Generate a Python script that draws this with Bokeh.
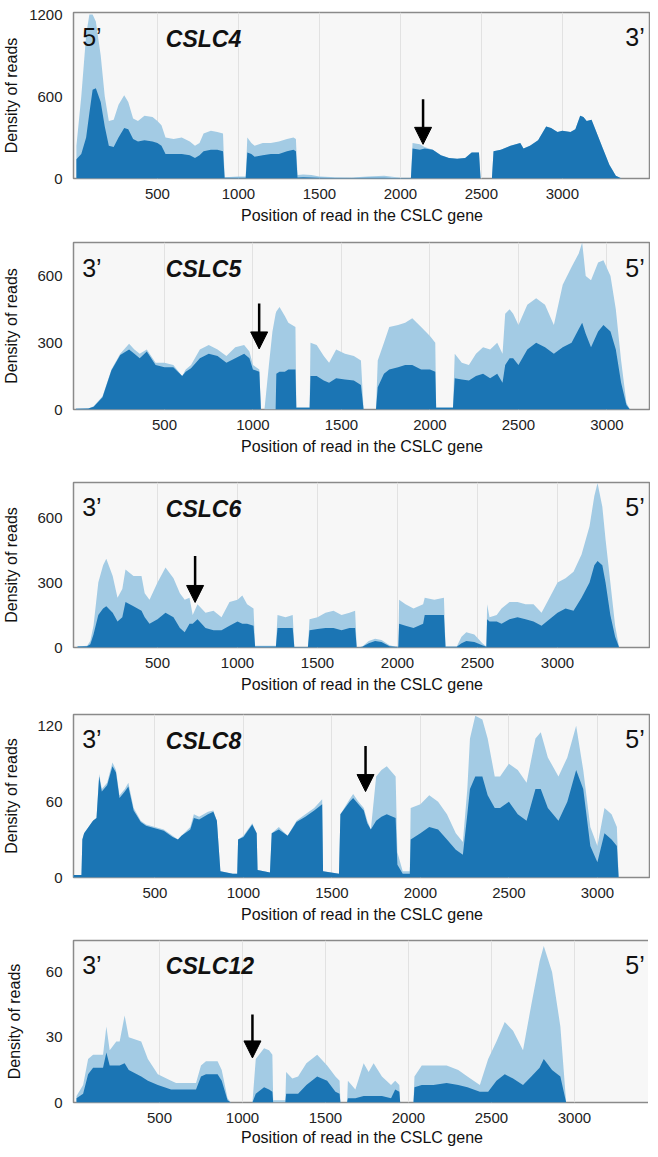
from bokeh.plotting import figure
from bokeh.models import Label, Arrow, NormalHead, FixedTicker, Range1d
from bokeh.layouts import column
from bokeh.embed import file_html
from bokeh.resources import INLINE

# ---------------- data ----------------
# CSLC4
x4 = [0, 30, 60, 80, 100, 120, 150, 175, 200, 230, 260, 295, 320, 350, 380, 420, 470, 500, 525, 550,
      600, 650, 700, 732, 760, 785, 830, 870, 905, 915, 1000, 1045, 1055, 1080, 1100, 1150, 1200, 1250,
      1300, 1340, 1355, 1365, 1400, 1450, 1500, 1600, 1700, 1800, 1900, 1950, 2000, 2065, 2075, 2120,
      2150, 2200, 2250, 2300, 2350, 2400, 2440, 2485, 2495, 2565, 2575, 2620, 2680, 2740, 2760, 2800,
      2850, 2900, 2930, 2970, 3000, 3050, 3080, 3110, 3130, 3150, 3180, 3210, 3250, 3290, 3330, 3365]
light4 = [240, 600, 1050, 1200, 1200, 1150, 900, 600, 420, 430, 540, 610, 560, 440, 420, 460, 450, 420, 390, 300,
          290, 300, 270, 240, 260, 330, 350, 340, 330, 10, 15, 15, 300, 260, 240, 260, 260, 270,
          290, 300, 290, 25, 30, 25, 15, 10, 8, 15, 20, 12, 5, 5, 260, 250,
          230, 210, 170, 150, 145, 150, 190, 190, 0, 0, 200, 210, 240, 260, 220, 240,
          280, 380, 370, 340, 350, 340, 360, 460, 450, 420, 430, 340, 220, 100, 20, 0]
dark4 = [140, 180, 300, 480, 650, 660, 560, 380, 240, 230, 300, 370, 360, 290, 270, 280, 270, 260, 240, 180,
         180, 180, 170, 150, 170, 200, 210, 210, 200, 5, 5, 5, 190, 180, 160, 170, 180, 180,
         200, 210, 200, 8, 10, 8, 5, 4, 3, 5, 5, 4, 3, 3, 220, 210,
         220, 210, 170, 150, 145, 150, 190, 190, 0, 0, 200, 210, 240, 260, 220, 240,
         280, 380, 370, 340, 350, 340, 360, 460, 450, 420, 430, 340, 220, 100, 20, 0]

# CSLC5
x5 = [0, 70, 100, 150, 200, 250, 300, 330, 360, 400, 450, 500, 550, 600, 620, 650, 700, 750, 800, 850,
      900, 950, 980, 1000, 1036, 1045, 1065, 1090, 1110, 1128, 1132, 1150, 1180, 1200, 1240, 1245, 1320,
      1325, 1360, 1400, 1430, 1470, 1520, 1570, 1610, 1625, 1695, 1705, 1740, 1770, 1820, 1860, 1900,
      1950, 2000, 2030, 2035, 2130, 2140, 2180, 2220, 2260, 2300, 2340, 2380, 2410, 2425, 2450, 2470,
      2500, 2550, 2600, 2650, 2700, 2750, 2800, 2840, 2860, 2880, 2910, 2950, 2980, 3020, 3050, 3080,
      3110, 3130]
light5 = [3, 5, 15, 60, 180, 250, 295, 270, 250, 270, 210, 210, 200, 150, 180, 200, 270, 290, 270, 240,
          280, 290, 260, 200, 180, 0, 0, 200, 350, 430, 440, 460, 420, 390, 370, 10, 10,
          300, 290, 240, 210, 270, 250, 240, 220, 0, 0, 220, 300, 370, 380, 390, 410,
          370, 330, 300, 10, 10, 250, 210, 200, 250, 280, 270, 300, 250, 430, 450, 430,
          380, 470, 500, 470, 380, 560, 640, 700, 750, 600, 580, 660, 670, 600, 450, 220,
          30, 0]
dark5 = [3, 5, 12, 55, 175, 245, 270, 250, 230, 260, 200, 190, 190, 150, 170, 185, 230, 250, 240, 210,
         230, 250, 230, 180, 170, 0, 0, 0, 0, 0, 160, 170, 170, 180, 180, 8, 8,
         150, 150, 130, 120, 140, 135, 130, 110, 0, 0, 100, 160, 180, 190, 200, 200,
         180, 180, 170, 8, 8, 140, 135, 130, 150, 160, 140, 160, 120, 200, 230, 230,
         200, 270, 300, 280, 250, 280, 300, 360, 390, 340, 280, 350, 380, 350, 270, 120,
         20, 0]

# CSLC6
x6 = [0, 60, 80, 100, 130, 160, 180, 220, 250, 280, 300, 350, 400, 420, 450, 500, 550, 600, 640, 670,
      700, 720, 750, 800, 850, 900, 950, 1000, 1030, 1060, 1100, 1110, 1240, 1250, 1300, 1345, 1355,
      1440, 1450, 1500, 1550, 1600, 1650, 1700, 1735, 1745, 1780, 1820, 1860, 1900, 1950, 1990, 2005,
      2010, 2050, 2100, 2160, 2170, 2230, 2290, 2300, 2370, 2400, 2430, 2480, 2530, 2555, 2560, 2575,
      2620, 2650, 2700, 2750, 2800, 2850, 2900, 2950, 3000, 3050, 3100, 3150, 3200, 3230, 3250, 3280,
      3300, 3330, 3360, 3385]
light6 = [5, 8, 30, 100, 300, 380, 410, 330, 230, 270, 360, 330, 330, 250, 220, 300, 370, 320, 250, 220,
          230, 150, 200, 160, 170, 140, 210, 220, 240, 200, 180, 8, 8, 150, 140, 150, 3,
          3, 130, 140, 160, 170, 150, 160, 170, 0, 5, 30, 40, 35, 10, 3, 3,
          220, 200, 180, 200, 230, 220, 230, 5, 5, 50, 70, 60, 20, 5, 200, 140,
          150, 180, 210, 210, 200, 200, 160, 230, 300, 320, 350, 430, 560, 700, 760, 650,
          500, 300, 100, 0]
dark6 = [5, 6, 15, 60, 150, 180, 190, 160, 120, 140, 210, 190, 170, 140, 110, 130, 160, 140, 90, 70,
         110, 110, 130, 90, 80, 80, 100, 120, 110, 110, 100, 5, 5, 90, 90, 90, 2,
         2, 80, 85, 90, 90, 80, 90, 90, 0, 4, 20, 30, 25, 6, 3, 3,
         110, 100, 90, 110, 150, 150, 150, 3, 3, 20, 30, 25, 10, 3, 130, 120,
         120, 110, 130, 140, 130, 120, 100, 130, 160, 180, 170, 230, 300, 380, 400, 380,
         300, 150, 50, 0]

# CSLC8
x8 = [0, 85, 90, 100, 150, 170, 185, 200, 230, 260, 280, 300, 330, 350, 380, 420, 450, 500, 550, 600,
      630, 650, 700, 720, 750, 800, 830, 850, 870, 940, 965, 970, 1000, 1050, 1075, 1080, 1150, 1160,
      1200, 1250, 1300, 1350, 1400, 1445, 1450, 1540, 1548, 1600, 1620, 1650, 1680, 1700, 1720, 1750,
      1780, 1810, 1860, 1870, 1900, 1940, 1945, 2000, 2050, 2100, 2150, 2200, 2240, 2265, 2280, 2310,
      2350, 2380, 2420, 2450, 2500, 2550, 2600, 2650, 2680, 2720, 2780, 2830, 2880, 2920, 2960, 3000,
      3040, 3080, 3110, 3120]
light8 = [2, 2, 30, 35, 45, 47, 82, 70, 75, 91, 85, 65, 70, 75, 55, 45, 42, 40, 38, 33,
          30, 33, 40, 50, 48, 52, 53, 45, 5, 3, 3, 30, 33, 43, 35, 6, 4, 35,
          40, 33, 45, 50, 55, 62, 5, 3, 50, 62, 66, 60, 55, 45, 38, 80,
          85, 88, 80, 20, 5, 5, 55, 58, 65, 60, 50, 35, 28, 70, 110, 128,
          125, 110, 80, 80, 90, 85, 75, 110, 115, 95, 80, 95, 120, 85, 40, 25,
          55, 50, 40, 0]
dark8 = [2, 2, 30, 35, 45, 47, 80, 68, 73, 88, 83, 63, 68, 72, 53, 44, 41, 39, 37, 32,
         30, 33, 38, 47, 46, 50, 52, 45, 5, 3, 3, 30, 32, 42, 35, 6, 4, 35,
         38, 33, 44, 48, 53, 58, 5, 3, 50, 60, 63, 58, 53, 43, 38, 45,
         48, 50, 47, 10, 3, 3, 30, 35, 40, 38, 30, 22, 18, 50, 70, 80,
         80, 65, 55, 55, 60, 50, 45, 70, 70, 55, 45, 60, 85, 70, 25, 12,
         35, 30, 25, 0]

# CSLC12
x12 = [0, 40, 70, 100, 160, 180, 200, 240, 260, 290, 315, 390, 430, 490, 570, 600, 720, 750, 780, 850,
       875, 910, 930, 1060, 1080, 1130, 1160, 1180, 1185, 1258, 1263, 1300, 1335, 1385, 1450, 1510, 1560,
       1585, 1590, 1630, 1635, 1680, 1730, 1760, 1790, 1840, 1895, 1920, 1945, 1950, 2030, 2036, 2080,
       2150, 2230, 2300, 2355, 2430, 2480, 2530, 2580, 2630, 2690, 2740, 2790, 2815, 2865, 2915, 2950]
light12 = [3, 8, 20, 22, 22, 35, 24, 28, 28, 40, 30, 28, 20, 13, 10, 9, 9, 17, 19, 19,
           15, 2, 0, 0, 20, 25, 24, 22, 1, 1, 14, 11, 12, 18, 22, 17, 12,
           10, 0, 0, 10, 6, 18, 14, 18, 12, 8, 10, 8, 0, 0, 12, 17,
           17, 17, 15, 12, 8, 20, 28, 37, 33, 24, 45, 65, 72, 60, 35, 0]
dark12 = [2, 4, 13, 16, 16, 23, 17, 17, 17, 18, 15, 12, 10, 8, 6, 6, 6, 12, 13, 13,
          10, 1, 0, 0, 4, 7, 6, 5, 0, 0, 4, 4, 4, 8, 12, 10, 5,
          4, 0, 0, 2, 2, 3, 3, 3, 3, 2, 6, 5, 0, 0, 7, 8,
          8, 9, 8, 7, 5, 5, 10, 13, 11, 8, 12, 16, 20, 15, 12, 0]

x_ticks = [500, 1000, 1500, 2000, 2500, 3000]

LIGHT = "#a3cbe4"
DARK = "#1b75b4"
FONT = "Liberation Sans"

panels = [
    dict(x=x4, light=light4, dark=dark4, xr=(-18, 3544), yr=(0, 1215), yt=[0, 600, 1200],
         left="5\u2019", right="3\u2019", gene="CSLC4", ax=2140, ay=(580, 250),
         top=12, fh=166, bottom=54, ls=6),
    dict(x=x5, light=light5, dark=dark5, xr=(-14, 3246), yr=(0, 750), yt=[0, 300, 600],
         left="3\u2019", right="5\u2019", gene="CSLC5", ax=1035, ay=(476, 272),
         top=10, fh=167, bottom=61, ls=14),
    dict(x=x6, light=light6, dark=dark6, xr=(-25, 3581), yr=(0, 762), yt=[0, 300, 600],
         left="3\u2019", right="5\u2019", gene="CSLC6", ax=735, ay=(423, 208),
         top=12, fh=165, bottom=55, ls=14),
    dict(x=x8, light=light8, dark=dark8, xr=(40, 3300), yr=(0, 129), yt=[0, 60, 120],
         left="3\u2019", right="5\u2019", gene="CSLC8", ax=1690, ay=(104, 68),
         top=12, fh=163, bottom=51, ls=14),
    dict(x=x12, light=light12, dark=dark12, xr=(-18, 3458), yr=(0, 74.5), yt=[0, 30, 60],
         left="3\u2019", right="5\u2019", gene="CSLC12", ax=1060, ay=(40.5, 20.5),
         top=12, fh=162, bottom=39, ls=20),
]

figs = []
for i, d in enumerate(panels):
    p = figure(frame_width=577, frame_height=d["fh"], min_border_left=65, min_border_right=0,
               min_border_top=d["top"], min_border_bottom=d["bottom"],
               x_range=Range1d(*d["xr"]), y_range=Range1d(*d["yr"]),
               output_backend="svg", toolbar_location=None)
    p.varea(x=d["x"], y1=0, y2=d["light"], color=LIGHT)
    p.varea(x=d["x"], y1=0, y2=d["dark"], color=DARK)

    p.background_fill_color = "#f7f7f7"
    p.border_fill_color = "white"
    p.outline_line_color = "#8a8a8a"
    p.outline_line_width = 1.5

    p.xaxis.ticker = FixedTicker(ticks=x_ticks)
    p.yaxis.ticker = FixedTicker(ticks=d["yt"])
    p.xaxis.axis_label = "Position of read in the CSLC gene"
    p.yaxis.axis_label = "Density of reads"
    for ax in (p.xaxis, p.yaxis):
        ax.axis_line_color = None
        ax.major_tick_line_color = None
        ax.minor_tick_line_color = None
        ax.major_label_text_font = FONT
        ax.major_label_text_font_size = "15px"
        ax.major_label_text_color = "#222222"
        ax.axis_label_text_font = FONT
        ax.axis_label_text_font_size = "16px"
        ax.axis_label_text_font_style = "normal"
        ax.axis_label_text_color = "#111111"
    p.xaxis.major_label_standoff = 4
    p.xaxis.axis_label_standoff = 3 if i == 4 else 5
    p.yaxis.major_label_standoff = 5
    p.yaxis.axis_label_standoff = d["ls"]

    p.xgrid.grid_line_color = "#e2e2e2"
    p.ygrid.grid_line_color = None

    x0, x1 = d["xr"]
    ytop = d["yr"][1]
    def fx(f):
        return x0 + f * (x1 - x0)
    p.add_layout(Label(x=fx(0.015), y=ytop * 0.85, text=d["left"], text_font=FONT,
                       text_font_size="25px", text_baseline="middle", text_color="#111111"))
    p.add_layout(Label(x=fx(0.99), y=ytop * 0.85, text=d["right"], text_font=FONT,
                       text_font_size="25px", text_baseline="middle", text_align="right",
                       text_color="#111111"))
    p.add_layout(Label(x=fx(0.16), y=ytop * 0.84, text=d["gene"], text_font=FONT,
                       text_font_size="23px", text_font_style="bold italic",
                       text_baseline="middle", text_color="#111111"))
    p.add_layout(Arrow(end=NormalHead(size=17, fill_color="black", line_color="black"),
                       x_start=d["ax"], y_start=d["ay"][0], x_end=d["ax"], y_end=d["ay"][1],
                       line_width=2.5, line_color="black"))
    figs.append(p)

layout = column(*figs, spacing=0)
open("out.html", "w").write(file_html(layout, INLINE))
